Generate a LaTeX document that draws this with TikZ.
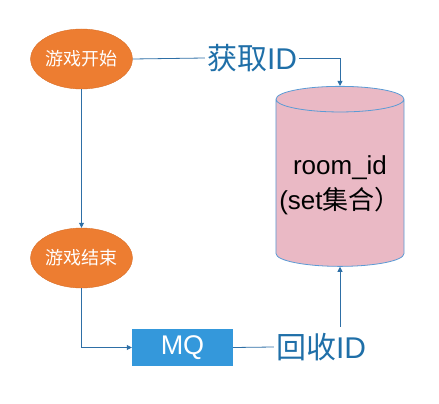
\documentclass[tikz,border=0pt]{standalone}
\usepackage{fontspec}
\setmainfont{Liberation Sans}
\newfontfamily\cjk{Noto Sans CJK SC}
\usetikzlibrary{shapes.geometric,arrows.meta}
\definecolor{gameorange}{HTML}{ED7D31}
\definecolor{gameedge}{HTML}{D9702A}
\definecolor{mqblue}{HTML}{3498DB}
\definecolor{dbpink}{HTML}{EAB9C5}
\definecolor{dbedge}{HTML}{5B9BD5}
\definecolor{linkblue}{HTML}{2E6FA6}
\definecolor{labelblue}{HTML}{1F6FA8}
\begin{document}
\begin{tikzpicture}[x=1pt,y=-1pt,
	game/.style={ellipse,fill=gameorange,draw=gameedge,minimum width=100pt,minimum height=60pt,inner sep=0pt,text=white,font=\cjk\fontsize{18}{20}\selectfont},
	link/.style={draw=linkblue,line width=0.8pt},
	tip/.style={-{Triangle[length=5pt,width=5pt]}},
	idlabel/.style={text=labelblue,inner xsep=2pt,inner ysep=6pt,font=\fontsize{30}{32}\selectfont}]
	\useasboundingbox (0,0) rectangle (439,404);

	\node [game] (start) at (81.5,59) {游戏开始};
	\node [game] (end) at (81.5,258) {游戏结束};
	\node [fill=mqblue,minimum width=101pt,minimum height=37pt,inner sep=0pt,text=white,font=\fontsize{27}{30}\selectfont] (mq) at (182.5,347.5) {MQ};
	\node [cylinder,shape border rotate=90,aspect=0.2,fill=dbpink,draw=dbedge,line width=0.8pt,minimum width=128pt,minimum height=180pt,align=center,font=\fontsize{26}{35}\selectfont] (db) at (340,185) {room\_id\\(set{\cjk 集合）}};

	\node [idlabel] (get) at (252,58) {{\cjk 获取}ID};
	\node [idlabel] (back) at (321,347) {{\cjk 回收}ID};

	\draw [link] (start.east) -- (get.west);
	\draw [link,tip] (get.east) -| (db.north);
	\draw [link,tip] (start.south) -- (end.north);
	\draw [link,tip] (end.south) |- (mq.west);
	\draw [link] (mq.east) -- (back.west);
	\draw [link,tip] (db.south |- back.north) -- (db.south);
\end{tikzpicture}
\end{document}
